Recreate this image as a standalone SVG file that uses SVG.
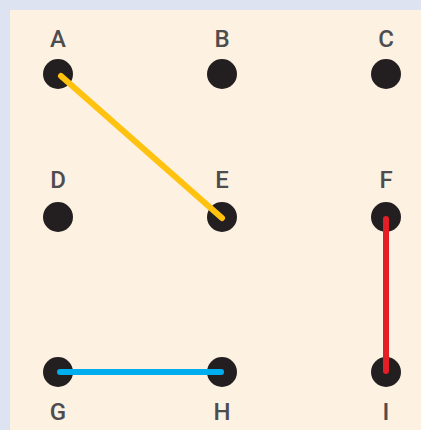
<svg xmlns="http://www.w3.org/2000/svg" width="421" height="430" viewBox="0 0 421 430">
<style>
.dot{fill:#231f20}
.lbl{font-family:Roboto,"Liberation Sans",Arial,sans-serif;font-size:24px;font-weight:500;fill:#4d4d4f;text-anchor:middle}
.c{stroke-width:6;stroke-linecap:round;fill:none}
</style>
<rect x="0" y="0" width="421" height="430" fill="#dde3f0"/>
<rect x="10" y="10" width="411" height="420" fill="#fdf1e2"/>
<g id="A"><text class="lbl" x="58" y="47">A</text><circle class="dot" cx="58" cy="74" r="15"/></g>
<g id="B"><text class="lbl" x="222" y="47">B</text><circle class="dot" cx="222" cy="74" r="15"/></g>
<g id="C"><text class="lbl" x="386" y="47">C</text><circle class="dot" cx="386" cy="74" r="15"/></g>
<g id="D"><text class="lbl" x="58" y="188">D</text><circle class="dot" cx="58" cy="217" r="15"/></g>
<g id="E"><text class="lbl" x="222" y="188">E</text><circle class="dot" cx="222" cy="217" r="15"/></g>
<g id="F"><text class="lbl" x="386" y="188">F</text><circle class="dot" cx="386" cy="217" r="15"/></g>
<g id="G"><circle class="dot" cx="58" cy="372" r="15"/><text class="lbl" x="58" y="420">G</text></g>
<g id="H"><circle class="dot" cx="222" cy="372" r="15"/><text class="lbl" x="222" y="420">H</text></g>
<g id="I"><circle class="dot" cx="386" cy="372" r="15"/><text class="lbl" x="386" y="420">I</text></g>
<g id="connectors">
<line class="c" x1="61" y1="76" x2="222" y2="218" stroke="#fec20f"/>
<line class="c" x1="60" y1="372" x2="221" y2="372" stroke="#00aeef"/>
<line class="c" x1="386" y1="219" x2="386" y2="371" stroke="#e31e26"/>
</g>
</svg>
